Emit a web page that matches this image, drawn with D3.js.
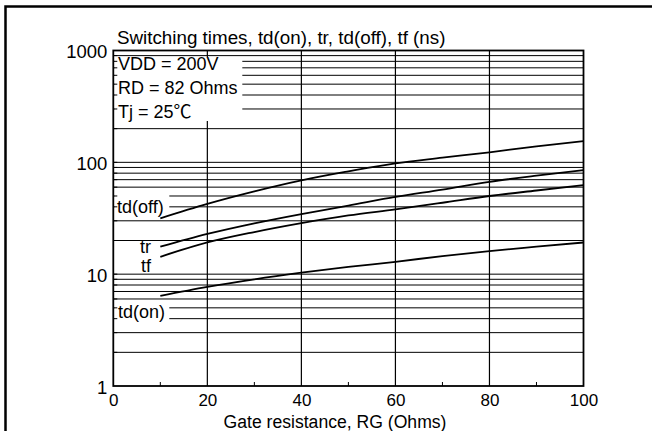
<!DOCTYPE html>
<html><head><meta charset="utf-8">
<script src="https://cdn.jsdelivr.net/npm/d3@7"></script>
<style>
body{margin:0;background:#fff;}
svg text{font-family:"Liberation Sans",Arial,"Noto Sans CJK SC",sans-serif;fill:#000;}
</style></head>
<body><svg id="c" width="652" height="431"></svg>
<script>
const xTicks=[0,20,40,60,80,100];
const yTicks=[1,10,100,1000];
const rg=[10,20,30,40,50,60,70,80,90,100];
const tdOff=[31.6,42.5,55,69,83,98,110,123,139,155];
const tr=[17.6,22.9,28.5,34.5,41,49,57,67,76,85];
const tf=[14.3,19.2,23.8,28.6,33.5,38,43.5,50,56,62.5];
const tdOn=[6.4,7.7,9,10.3,11.6,12.9,14.5,16.1,17.6,19.2];
const seriesNames=["td(off)","tr","tf","td(on)"];
const legendLines=["VDD = 200V","RD = 82 Ohms","Tj = 25\u2103"];
const titleText="Switching times, td(on), tr, td(off), tf (ns)";
const xTitle="Gate resistance, RG (Ohms)";

const svg=d3.select("#c");
const x=d3.scaleLinear().domain([0,100]).range([113.3,583.5]);
const y=d3.scaleLog().domain([1,1000]).range([386,50.5]);
const FS=18;

// outer frame
svg.append("rect").attr("x",5.5).attr("y",6.5).attr("width",700).attr("height",500)
  .attr("fill","none").attr("stroke","#000").attr("stroke-width",2.5);

// minor/major horizontal gridlines
const minor=[];
for(let d=1;d<1000;d*=10){for(let k=1;k<10;k++){minor.push(d*k);}}
const gridVals=minor.filter(v=>v>1&&v<1000);
svg.append("g").selectAll("line").data(gridVals).join("line")
  .attr("x1",x(0)).attr("x2",x(100)).attr("y1",d=>y(d)).attr("y2",d=>y(d))
  .attr("stroke","#000").attr("stroke-width",1);
// vertical gridlines
svg.append("g").selectAll("line").data(xTicks.filter(v=>v>0&&v<100)).join("line")
  .attr("x1",d=>x(d)).attr("x2",d=>x(d)).attr("y1",y(1000)).attr("y2",y(1))
  .attr("stroke","#000").attr("stroke-width",1.2);

// white boxes behind labels
const wb=svg.append("g").attr("fill","#fff");
wb.append("rect").attr("x",x(0)+1).attr("y",57).attr("width",128).attr("height",64);
wb.append("rect").attr("x",x(0)+1).attr("y",193).attr("width",55).attr("height",22);
wb.append("rect").attr("x",x(0)+1).attr("y",302).attr("width",55).attr("height",22);

// left minor ticks
svg.append("g").selectAll("line").data(gridVals).join("line")
  .attr("x1",x(0)).attr("x2",x(0)+4).attr("y1",d=>y(d)).attr("y2",d=>y(d))
  .attr("stroke","#000").attr("stroke-width",1);
// bottom minor ticks
svg.append("g").selectAll("line").data([10,30,50,70,90]).join("line")
  .attr("x1",d=>x(d)).attr("x2",d=>x(d)).attr("y1",y(1)).attr("y2",y(1)-4)
  .attr("stroke","#000").attr("stroke-width",1);

// plot border
svg.append("rect").attr("x",x(0)).attr("y",y(1000)).attr("width",x(100)-x(0)).attr("height",y(1)-y(1000))
  .attr("fill","none").attr("stroke","#000").attr("stroke-width",1.8);

// axes labels via d3 axes
const ax=svg.append("g").attr("transform",`translate(0,${y(1)})`)
  .call(d3.axisBottom(x).tickValues(xTicks).tickSize(0).tickPadding(8).tickFormat(d3.format("d")));
ax.select(".domain").remove();
ax.selectAll("text").attr("font-size",17).attr("font-family","Liberation Sans, Arial, sans-serif");
const ay=svg.append("g").attr("transform",`translate(${x(0)},0)`)
  .call(d3.axisLeft(y).tickValues(yTicks).tickSize(0).tickPadding(6).tickFormat(d3.format("d")));
ay.select(".domain").remove();
ay.selectAll("text").attr("font-size",18.5).attr("font-family","Liberation Sans, Arial, sans-serif").attr("dy","0.4em");

// titles
svg.append("text").attr("x",117).attr("y",43.5).attr("font-size",18.8).text(titleText);
svg.append("text").attr("x",335).attr("y",427.5).attr("text-anchor","middle").attr("font-size",17.6).text(xTitle);

// legend text
svg.append("g").selectAll("text").data(legendLines).join("text")
  .attr("x",118).attr("y",(d,i)=>70+i*24).attr("font-size",FS).text(d=>d);

// curves
const series=[tdOff,tr,tf,tdOn];
const line=d3.line().x((d,i)=>x(rg[i])).y(d=>y(d)).curve(d3.curveMonotoneX);
svg.append("g").selectAll("path").data(series).join("path")
  .attr("d",d=>line(d)).attr("fill","none").attr("stroke","#000").attr("stroke-width",1.8);

// series labels
const labPos=[[117,212.5,"start"],[151,253,"end"],[151,272,"end"],[118,317.5,"start"]];
svg.append("g").selectAll("text").data(seriesNames).join("text")
  .attr("x",(d,i)=>labPos[i][0]).attr("y",(d,i)=>labPos[i][1]).attr("text-anchor",(d,i)=>labPos[i][2])
  .attr("font-size",FS).text(d=>d);
</script></body></html>
